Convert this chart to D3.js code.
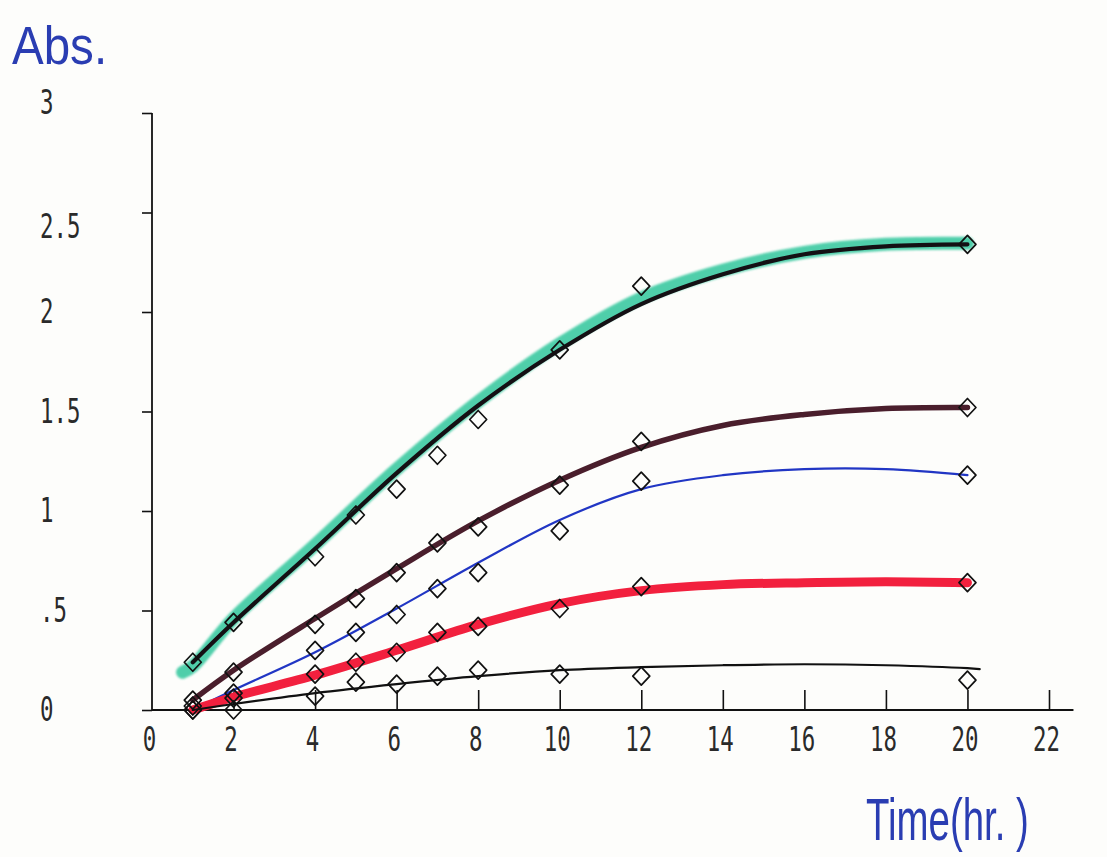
<!DOCTYPE html>
<html>
<head>
<meta charset="utf-8">
<script src="https://cdn.jsdelivr.net/npm/d3@7"></script>
<style>
  html, body { margin: 0; padding: 0; background: #fdfdfb; }
  svg { display: block; }
</style>
</head>
<body>
<svg id="chart" width="1107" height="857"></svg>
<script>
// ---- data ----
const sampleTimes = [1, 2, 4, 5, 6, 7, 8, 10, 12, 20];
const seriesTop    = [0.24, 0.44, 0.77, 0.98, 1.11, 1.28, 1.46, 1.81, 2.13, 2.34];
const seriesMaroon = [0.05, 0.19, 0.43, 0.56, 0.69, 0.84, 0.92, 1.13, 1.35, 1.52];
const seriesBlue   = [0.02, 0.085, 0.30, 0.39, 0.48, 0.61, 0.69, 0.90, 1.15, 1.18];
const seriesRed    = [0.0, 0.06, 0.18, 0.24, 0.29, 0.39, 0.42, 0.51, 0.62, 0.64];
const seriesBlack  = [0.0, 0.0, 0.07, 0.14, 0.13, 0.17, 0.20, 0.18, 0.17, 0.15];

// fitted (hand-drawn) curves, sampled along time
const fitTimes     = [1, 2, 4, 6, 8, 10, 12, 14, 16, 18, 20, 20.3];
const fitTop       = [0.24, 0.44, 0.81, 1.19, 1.53, 1.81, 2.04, 2.19, 2.29, 2.33, 2.34, null];
const fitGreen     = [0.22, 0.46, 0.83, 1.21, 1.55, 1.84, 2.07, 2.21, 2.30, 2.34, 2.345, null];
const fitMaroon    = [0.05, 0.20, 0.46, 0.71, 0.95, 1.155, 1.32, 1.43, 1.485, 1.515, 1.52, null];
const fitBlue      = [0.0, 0.10, 0.29, 0.51, 0.74, 0.955, 1.11, 1.18, 1.21, 1.21, 1.18, null];
const fitRed       = [0.0, 0.065, 0.175, 0.30, 0.43, 0.535, 0.60, 0.63, 0.64, 0.645, 0.64, null];
const fitBlack     = [0.0, 0.03, 0.085, 0.13, 0.17, 0.20, 0.215, 0.225, 0.23, 0.225, 0.21, 0.205];

const xTickValues = [0, 2, 4, 6, 8, 10, 12, 14, 16, 18, 20, 22];
const xTickLabels = ["0", "2", "4", "6", "8", "10", "12", "14", "16", "18", "20", "22"];
const yTickValues = [0, 0.5, 1, 1.5, 2, 2.5, 3];
const yTickLabels = ["0", ".5", "1", "1.5", "2", "2.5", "3"];

const yTitle = "Abs.";
const xTitle = "Time(hr. )";

// ---- drawing ----
const svg = d3.select("#chart");
const x = d3.scaleLinear().domain([0, 22]).range([152, 1049]);
const y = d3.scaleLinear().domain([0, 3]).range([710, 113]);

const defs = svg.append("defs");
const f = defs.append("filter").attr("id", "crayon").attr("x", "-5%").attr("y", "-5%").attr("width", "110%").attr("height", "110%");
f.append("feGaussianBlur").attr("stdDeviation", 1.2);

const plotFont = "'DejaVu Sans Mono', 'Liberation Mono', monospace";

// axes
const xAxis = d3.axisBottom(x)
  .tickValues(xTickValues)
  .tickSize(-20)
  .tickPadding(18)
  .tickFormat((d, i) => xTickLabels[i]);
const gx = svg.append("g").attr("transform", `translate(0,${y(0)})`).call(xAxis);
gx.select(".domain").remove();
gx.selectAll(".tick line").attr("stroke", "#111").attr("stroke-width", 1.6)
  .filter(d => d === 0).remove();
gx.selectAll(".tick text")
  .attr("font-family", plotFont).attr("font-size", 33).attr("fill", "#2a2a2a")
  .attr("dy", "0.71em")
  .attr("transform", "translate(-3,0) scale(0.68,1)");
svg.append("line")
  .attr("x1", x(0)).attr("x2", x(22.6))
  .attr("y1", y(0)).attr("y2", y(0))
  .attr("stroke", "#111").attr("stroke-width", 1.8);

const yAxis = d3.axisLeft(y)
  .tickValues(yTickValues)
  .tickSize(10)
  .tickFormat((d, i) => yTickLabels[i]);
const gy = svg.append("g").attr("transform", `translate(${x(0)},0)`).call(yAxis);
gy.select(".domain").remove();
gy.selectAll(".tick line").attr("stroke", "#111").attr("stroke-width", 1.6);
gy.selectAll(".tick text")
  .attr("font-family", plotFont).attr("font-size", 33).attr("fill", "#2a2a2a")
  .attr("text-anchor", "start")
  .attr("x", 0)
  .attr("transform", d => `translate(-112,${d === 3 ? -10 : (d === 2.5 ? 14 : 0)}) scale(0.68,1)`);
svg.append("line")
  .attr("x1", x(0)).attr("x2", x(0))
  .attr("y1", y(3)).attr("y2", y(0))
  .attr("stroke", "#111").attr("stroke-width", 1.8);

// curves
const line = d3.line()
  .defined(d => d[1] !== null)
  .x(d => x(d[0])).y(d => y(d[1]))
  .curve(d3.curveCatmullRom.alpha(0.5));
const zipFit = arr => fitTimes.map((t, i) => [t, arr[i]]);

// green highlighter under the top curve (starts slightly before 1 hr)
const greenPts = [[0.75, 0.19]].concat(zipFit(fitGreen));
svg.append("path").attr("d", line(greenPts))
  .attr("fill", "none").attr("stroke", "#3ccaa2").attr("stroke-width", 13)
  .attr("stroke-linecap", "round").attr("opacity", 0.9).attr("filter", "url(#crayon)");

const curves = [
  { data: fitTop,    color: "#141014", width: 4.2 },
  { data: fitMaroon, color: "#4a1e2c", width: 5.5 },
  { data: fitBlue,   color: "#2136c4", width: 2.2 },
  { data: fitRed,    color: "#f2203e", width: 9 },
  { data: fitBlack,  color: "#111111", width: 2.2 }
];
curves.forEach(c => {
  svg.append("path").attr("d", line(zipFit(c.data)))
    .attr("fill", "none").attr("stroke", c.color).attr("stroke-width", c.width)
    .attr("stroke-linecap", "round").attr("stroke-linejoin", "round");
});

// diamond markers
const allSeries = [seriesTop, seriesMaroon, seriesBlue, seriesRed, seriesBlack];
const diamond = "M0,-9L8.5,0L0,9L-8.5,0Z";
allSeries.forEach(s => {
  svg.append("g").selectAll("path")
    .data(sampleTimes.map((t, i) => [t, s[i]]))
    .join("path")
    .attr("d", diamond)
    .attr("transform", d => `translate(${x(d[0])},${y(d[1])})`)
    .attr("fill", "none").attr("stroke", "#111").attr("stroke-width", 1.7)
    .attr("stroke-linejoin", "round");
});

// handwritten titles
svg.append("text").text(yTitle)
  .attr("transform", "translate(12,64) scale(0.88,1)")
  .attr("font-family", "'Liberation Sans', Arial, sans-serif")
  .attr("font-size", 54).attr("fill", "#2a3db2");
svg.append("text").text(xTitle)
  .attr("transform", "translate(866,840) scale(0.64,1)")
  .attr("font-family", "'Liberation Sans', Arial, sans-serif")
  .attr("font-size", 60).attr("fill", "#2a3db2");
</script>
</body>
</html>
